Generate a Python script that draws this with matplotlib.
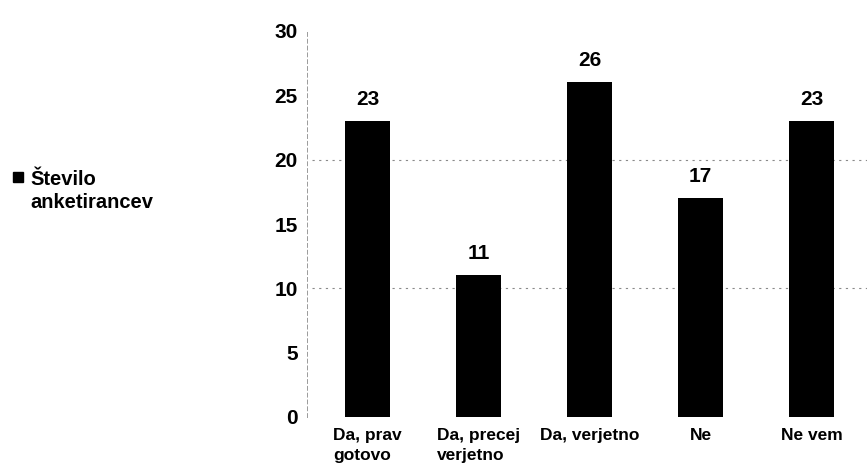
import matplotlib.pyplot as plt
from matplotlib.patches import Rectangle

plt.rcParams['font.family'] = ['Liberation Sans', 'DejaVu Sans']
plt.rcParams['font.weight'] = 'bold'

# Odgovori in število anketirancev
categories = ['Da, prav\ngotovo', 'Da, precej\nverjetno', 'Da, verjetno', 'Ne', 'Ne vem']
counts = [23, 11, 26, 17, 23]
series_name = 'Število\nanketirancev'
y_ticks = [0, 5, 10, 15, 20, 25, 30]
grid_levels = [10, 20]

W, H = 867, 474
fig = plt.figure(figsize=(W / 100, H / 100), dpi=100)
ax = fig.add_axes([312 / W, 1 - 417 / H, (W - 312) / W, (417 - 31) / H])

# spines first: moving a spine resets the ticks
for side in ['top', 'right', 'bottom']:
    ax.spines[side].set_visible(False)
ax.spines['left'].set_color('#9a9a9a')
ax.spines['left'].set_linewidth(0.7)
ax.spines['left'].set_linestyle((0, (4, 3)))
ax.spines['left'].set_position(('outward', 3.6))

x = list(range(len(categories)))
bars = ax.bar(x, counts, width=0.41, color='black', zorder=3)

# value labels above the bars
for rect, val in zip(bars, counts):
    ax.annotate(str(val), (rect.get_x() + rect.get_width() / 2, val),
                xytext=(0, 11.5), textcoords='offset points',
                ha='center', va='baseline', fontsize=15, fontweight='bold')

# faint dotted gridlines
for lvl in grid_levels:
    ax.axhline(lvl, color='#8a8a8a', lw=0.8, ls=(0, (2, 4)), zorder=1)
ax.axhline(0, color='#b0b0b0', lw=0.6, ls=(0, (2, 7)), zorder=1)

ax.set_xlim(-0.5, len(categories) - 0.5)
ax.set_ylim(0, 30)
ax.tick_params(axis='y', length=0, pad=6.5, labelsize=15)
ax.tick_params(axis='x', length=0, pad=8)
ax.set_yticks(y_ticks, labels=[str(t) for t in y_ticks],
              fontsize=15, fontweight='bold')
ax.set_xticks(x, labels=categories, fontsize=12.5, fontweight='bold',
              linespacing=1.4, ha='center', multialignment='left')

# legend: small black square beside the series name
fig.patches.append(Rectangle((13 / W, 1 - 182 / H), 10 / W, 10 / H,
                             transform=fig.transFigure, color='black'))
fig.text(30 / W, 1 - 208 / H, series_name, ha='left', va='baseline',
         fontsize=14.5, fontweight='bold', linespacing=1.25)

fig.savefig('out.png', dpi=100, facecolor='white')
